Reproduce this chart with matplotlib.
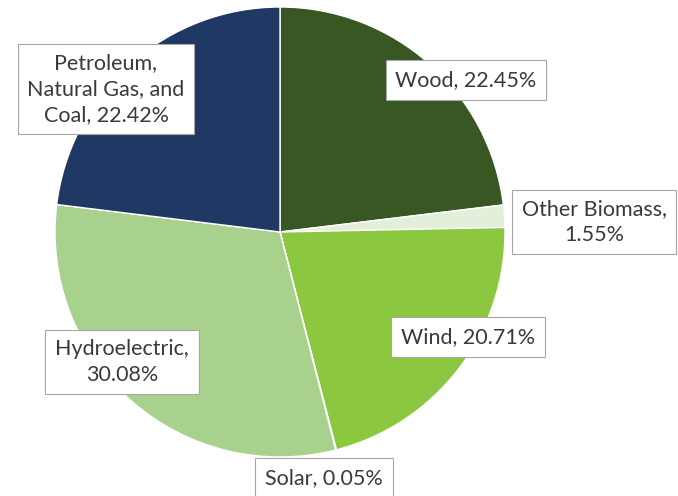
import matplotlib.pyplot as plt

# Energy sources share
sources = ['Wood', 'Other Biomass', 'Wind', 'Solar', 'Hydroelectric',
           'Petroleum, Natural Gas, and Coal']
shares = [22.45, 1.55, 20.71, 0.05, 30.08, 22.42]
label_text = ['Wood, 22.45%', 'Other Biomass,\n1.55%', 'Wind, 20.71%',
              'Solar, 0.05%', 'Hydroelectric,\n30.08%',
              'Petroleum,\nNatural Gas, and\nCoal, 22.42%']
colors = ['#385723', '#e2efda', '#8cc83f', '#c5e0b4', '#a9d18e', '#1f3864']

# label box centres in pixel coords (x, y from bottom)
label_pos = [(466, 416), (594, 274), (468, 159), (324, 18), (122, 134), (106, 407)]

plt.rcParams['font.family'] = ['Lato', 'DejaVu Sans']

fig = plt.figure(figsize=(6.78, 4.96), dpi=100)
ax = fig.add_axes([0, 0, 1, 1])

ax.pie(shares, colors=colors, startangle=90, counterclock=False,
       center=(280, 264), radius=225,
       wedgeprops=dict(edgecolor='white', linewidth=1))

for txt, (x, y) in zip(label_text, label_pos):
    ax.text(x, y, txt, ha='center', va='center', fontsize=15.5, color='#3a3a3a',
            linespacing=1.35,
            bbox=dict(boxstyle='square,pad=0.45', facecolor='white',
                      edgecolor='#a6a6a6', linewidth=0.8))

ax.set_xlim(0, 678)
ax.set_ylim(0, 496)
ax.set_aspect('equal')
ax.axis('off')

fig.savefig('out.png', dpi=100)
